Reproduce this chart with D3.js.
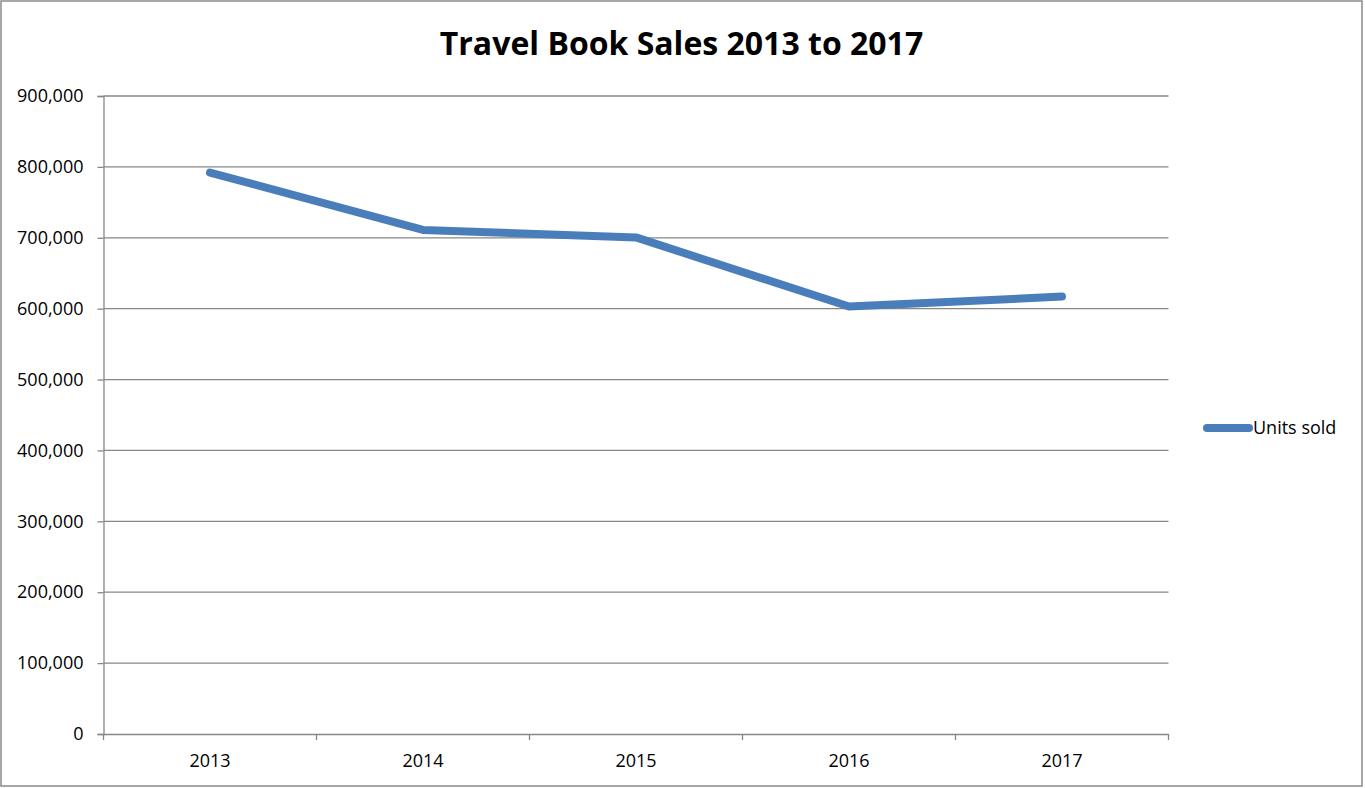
<!DOCTYPE html>
<html>
<head>
<meta charset="utf-8">
<script src="https://cdn.jsdelivr.net/npm/d3@7"></script>
<style>
  html, body { margin: 0; padding: 0; background: #fff; }
  svg { display: block; font-family: "Open Sans", sans-serif; }
</style>
</head>
<body>
<svg width="1365" height="788"></svg>
<script>
'use strict';

const years = ['2013', '2014', '2015', '2016', '2017'];
const unitsSold = [792000, 711000, 700500, 603000, 617000];
const yTicks = [0, 100000, 200000, 300000, 400000, 500000, 600000, 700000, 800000, 900000];
const seriesName = 'Units sold';
const title = 'Travel Book Sales 2013 to 2017';

const svg = d3.select('svg');
const width = +svg.attr('width');
const height = +svg.attr('height');

const margin = {left: 103.5, right: 1168.5, top: 96, bottom: 734};
const grey = '#878787';
const blue = '#4a7ebb';

// outer frame
svg.append('rect')
    .attr('x', 1).attr('y', 1)
    .attr('width', width - 4).attr('height', height - 3)
    .attr('fill', 'none')
    .attr('stroke', '#8a8a8a')
    .attr('stroke-width', 1.5);

const x = d3.scaleBand()
    .domain(years)
    .range([margin.left, margin.right]);

const y = d3.scaleLinear()
    .domain([0, 900000])
    .range([margin.bottom, margin.top]);

// grid lines
svg.append('g')
    .selectAll('line')
    .data(yTicks.slice(1))
    .enter()
    .append('line')
        .attr('x1', margin.left)
        .attr('x2', margin.right)
        .attr('y1', d => y(d))
        .attr('y2', d => y(d))
        .attr('stroke', grey)
        .attr('stroke-width', 1.3);

// y axis
const yAxis = svg.append('g')
    .attr('transform', `translate(${margin.left},0)`)
    .call(d3.axisLeft(y)
        .tickValues(yTicks)
        .tickSize(6)
        .tickPadding(14)
        .tickFormat(d3.format(',')));

// x axis
const xAxis = svg.append('g')
    .attr('transform', `translate(0,${margin.bottom})`)
    .call(d3.axisBottom(x).tickSize(0).tickPadding(20));

// x tick marks at band edges
const edges = years.map(d => x(d)).concat([x(years[years.length - 1]) + x.bandwidth()]);
svg.append('g')
    .selectAll('line')
    .data(edges)
    .enter()
    .append('line')
        .attr('x1', d => d).attr('x2', d => d)
        .attr('y1', margin.bottom).attr('y2', margin.bottom + 6)
        .attr('stroke', grey)
        .attr('stroke-width', 1.3);

[yAxis, xAxis].forEach(g => {
    g.selectAll('.domain').attr('stroke', grey).attr('stroke-width', 1.3);
    g.selectAll('.tick line').attr('stroke', grey).attr('stroke-width', 1.3);
    g.selectAll('.tick text')
        .attr('fill', '#000')
        .attr('font-size', 18)
        .attr('font-family', '"Open Sans", sans-serif');
});

// series line
const line = d3.line()
    .x((d, i) => x(years[i]) + x.bandwidth() / 2)
    .y(d => y(d));

svg.append('path')
    .datum(unitsSold)
    .attr('d', line)
    .attr('fill', 'none')
    .attr('stroke', blue)
    .attr('stroke-width', 8)
    .attr('stroke-linecap', 'round')
    .attr('stroke-linejoin', 'round');

// title
svg.append('text')
    .attr('x', 681.5)
    .attr('y', 55)
    .attr('text-anchor', 'middle')
    .attr('font-size', 32)
    .attr('font-weight', 'bold')
    .text(title);

// legend
const legend = svg.append('g').attr('transform', 'translate(1205,428)');
legend.append('line')
    .attr('x1', 2).attr('x2', 44)
    .attr('stroke', blue)
    .attr('stroke-width', 8)
    .attr('stroke-linecap', 'round');
legend.append('text')
    .attr('x', 48)
    .attr('y', 6)
    .attr('font-size', 18)
    .text(seriesName);
</script>
</body>
</html>
